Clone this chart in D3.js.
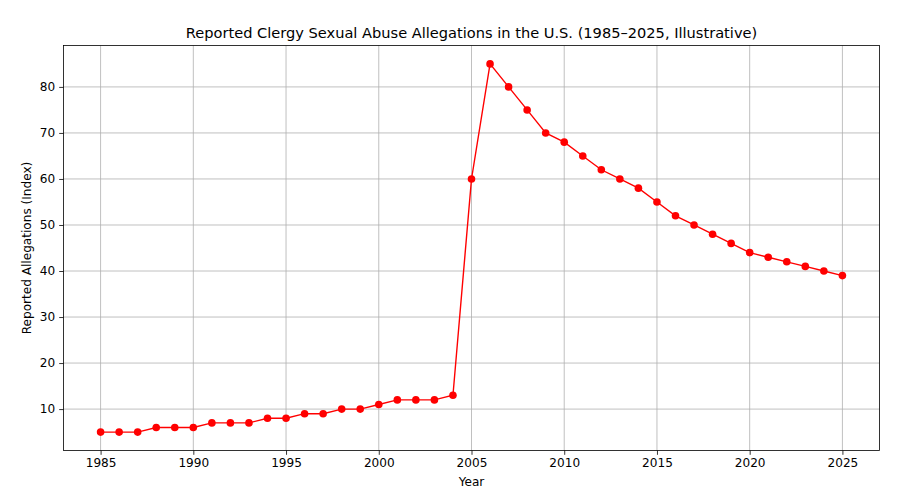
<!DOCTYPE html>
<html><head><meta charset="utf-8">
<script src="https://cdn.jsdelivr.net/npm/d3@7"></script>
<style>body{margin:0;background:#fff}svg{display:block;font-family:"DejaVu Sans",sans-serif}</style>
</head><body><svg id="c" width="900" height="489"></svg>
<script>
const years = d3.range(1985, 2026);
const values = [5,5,5,6,6,6,7,7,7,8,8,9,9,10,10,11,12,12,12,13,60,85,80,75,70,68,65,62,60,58,55,52,50,48,46,44,43,42,41,40,39];
const xTicks = [1985,1990,1995,2000,2005,2010,2015,2020,2025];
const yTicks = [10,20,30,40,50,60,70,80];
const title = "Reported Clergy Sexual Abuse Allegations in the U.S. (1985–2025, Illustrative)";
const xLabel = "Year";
const yLabel = "Reported Allegations (Index)";

const svg = d3.select("#c");
const L=63.5, R=879.5, T=45.5, B=450.5;
const x = d3.scaleLinear().domain([1983,2027]).range([L,R]);
const y = d3.scaleLinear().domain([1,89]).range([B,T]);

const g = svg.append("g");
g.selectAll(".gx").data(xTicks).join("line")
 .attr("x1",d=>x(d)).attr("x2",d=>x(d)).attr("y1",T).attr("y2",B)
 .attr("stroke","#b0b0b0").attr("stroke-width",0.8);
g.selectAll(".gy").data(yTicks).join("line")
 .attr("y1",d=>y(d)).attr("y2",d=>y(d)).attr("x1",L).attr("x2",R)
 .attr("stroke","#b0b0b0").attr("stroke-width",0.8);

const xa = svg.append("g").attr("transform",`translate(0,${B})`)
 .call(d3.axisBottom(x).tickValues(xTicks).tickFormat(d3.format("d")).tickSize(4.3).tickPadding(4));
const ya = svg.append("g").attr("transform",`translate(${L},0)`)
 .call(d3.axisLeft(y).tickValues(yTicks).tickSize(4.3).tickPadding(4));
[xa,ya].forEach(a=>{a.select(".domain").remove();a.selectAll("text").attr("font-size","12.1px").attr("fill","#000").attr("font-family","DejaVu Sans");a.selectAll("line").attr("stroke","#000").attr("stroke-width",0.8);});

svg.append("rect").attr("x",L).attr("y",T).attr("width",R-L).attr("height",B-T)
 .attr("fill","none").attr("stroke","#000").attr("stroke-width",0.8);

const data = years.map((yr,i)=>({yr,v:values[i]}));
svg.append("path").datum(data)
 .attr("d",d3.line().x(d=>x(d.yr)).y(d=>y(d.v)))
 .attr("fill","none").attr("stroke","#ff0000").attr("stroke-width",1.4);
svg.selectAll(".pt").data(data).join("circle")
 .attr("cx",d=>x(d.yr)).attr("cy",d=>y(d.v)).attr("r",3.8).attr("fill","#ff0000");

svg.append("text").attr("x",(L+R)/2).attr("y",38).attr("text-anchor","middle")
 .attr("font-size","14.6px").text(title);
svg.append("text").attr("x",(L+R)/2).attr("y",486).attr("text-anchor","middle")
 .attr("font-size","12.1px").text(xLabel);
svg.append("text").attr("transform",`translate(31,${(T+B)/2}) rotate(-90)`).attr("text-anchor","middle")
 .attr("font-size","12.1px").text(yLabel);
</script></body></html>
